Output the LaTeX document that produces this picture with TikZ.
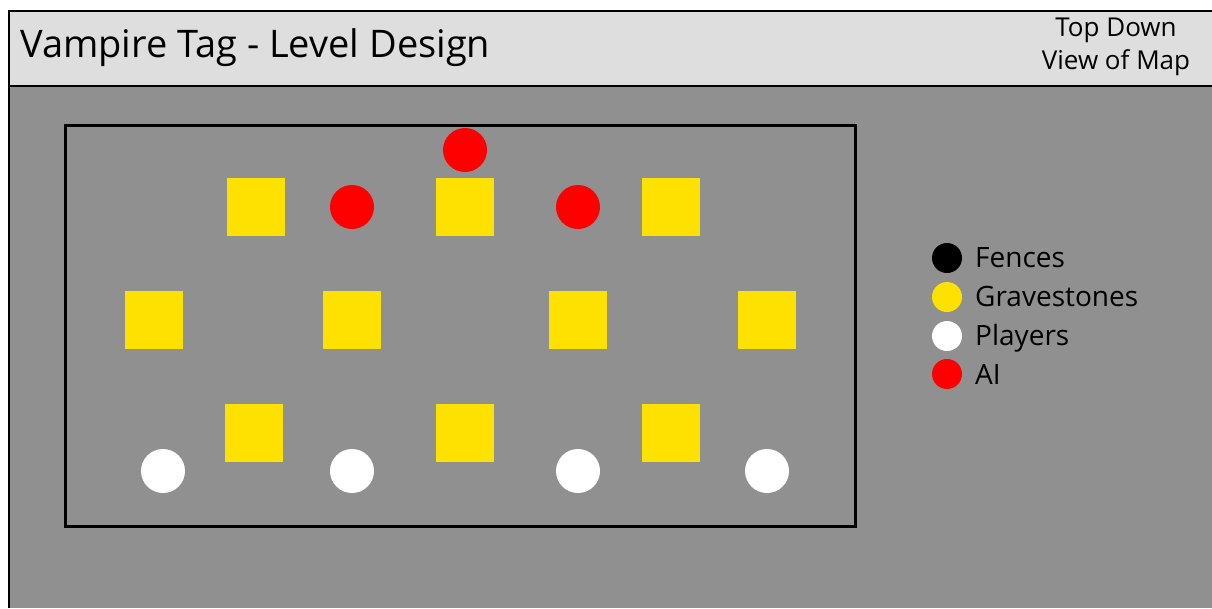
\documentclass[tikz,border=0pt]{standalone}
\usepackage{fontspec}
\setmainfont{Open Sans}
\definecolor{bggray}{HTML}{909090}
\definecolor{hdrgray}{HTML}{DEDEDE}
\definecolor{grave}{HTML}{FFE100}
\definecolor{aired}{HTML}{FF0000}
\begin{document}
\begin{tikzpicture}[x=1pt,y=-1pt,
  gravestone/.style={fill=grave,draw=none,minimum size=58pt,inner sep=0pt,shape=rectangle},
  ai/.style={circle,fill=aired,draw=none,minimum size=44pt,inner sep=0pt},
  player/.style={circle,fill=white,draw=none,minimum size=44pt,inner sep=0pt},
  legdot/.style={circle,draw=none,minimum size=30pt,inner sep=0pt},
  legtext/.style={anchor=base west,inner sep=0pt,font=\fontsize{28}{30}\selectfont}]
\useasboundingbox (0,0) rectangle (1212,608);
\fill[white] (0,0) rectangle (1212,608);
% header and background
\fill[hdrgray] (9,11) rectangle (1212,86);
\fill[bggray] (9,86) rectangle (1212,608);
\draw[line width=1.5pt] (1212,11) -- (9,11) -- (9,608);
\draw[line width=1.5pt] (9,86) -- (1212,86);
\node[anchor=base west,inner sep=0pt,font=\fontsize{38}{40}\selectfont] (title) at (20,57) {Vampire Tag - Level Design};
\node[anchor=base,inner sep=0pt,font=\fontsize{26}{30}\selectfont] (view1) at (1116,36) {Top Down};
\node[anchor=base,inner sep=0pt,font=\fontsize{26}{30}\selectfont] (view2) at (1116,69) {View of Map};
% fence
\draw[line width=3pt] (65,125) rectangle (855,526);
% row 1
\node[ai] (a1) at (465,150) {};
\node[gravestone] (g1) at (256,207) {};
\node[ai] (a2) at (352,207) {};
\node[gravestone] (g2) at (465,207) {};
\node[ai] (a3) at (578,207) {};
\node[gravestone] (g3) at (671,207) {};
% row 2
\node[gravestone] (g4) at (154,320) {};
\node[gravestone] (g5) at (352,320) {};
\node[gravestone] (g6) at (578,320) {};
\node[gravestone] (g7) at (767,320) {};
% row 3
\node[gravestone] (g8) at (254,433) {};
\node[gravestone] (g9) at (465,433) {};
\node[gravestone] (g10) at (671,433) {};
\node[player] (p1) at (163,471) {};
\node[player] (p2) at (352,471) {};
\node[player] (p3) at (578,471) {};
\node[player] (p4) at (767,471) {};
% legend
\node[legdot,fill=black] (l1) at (947,258) {};
\node[legdot,fill=grave] (l2) at (947,297) {};
\node[legdot,fill=white] (l3) at (947,336) {};
\node[legdot,fill=aired] (l4) at (947,374) {};
\node[legtext] (t1) at (975,267) {Fences};
\node[legtext] (t2) at (975,306) {Gravestones};
\node[legtext] (t3) at (975,345) {Players};
\node[legtext] (t4) at (975,384) {AI};
\end{tikzpicture}
\end{document}
